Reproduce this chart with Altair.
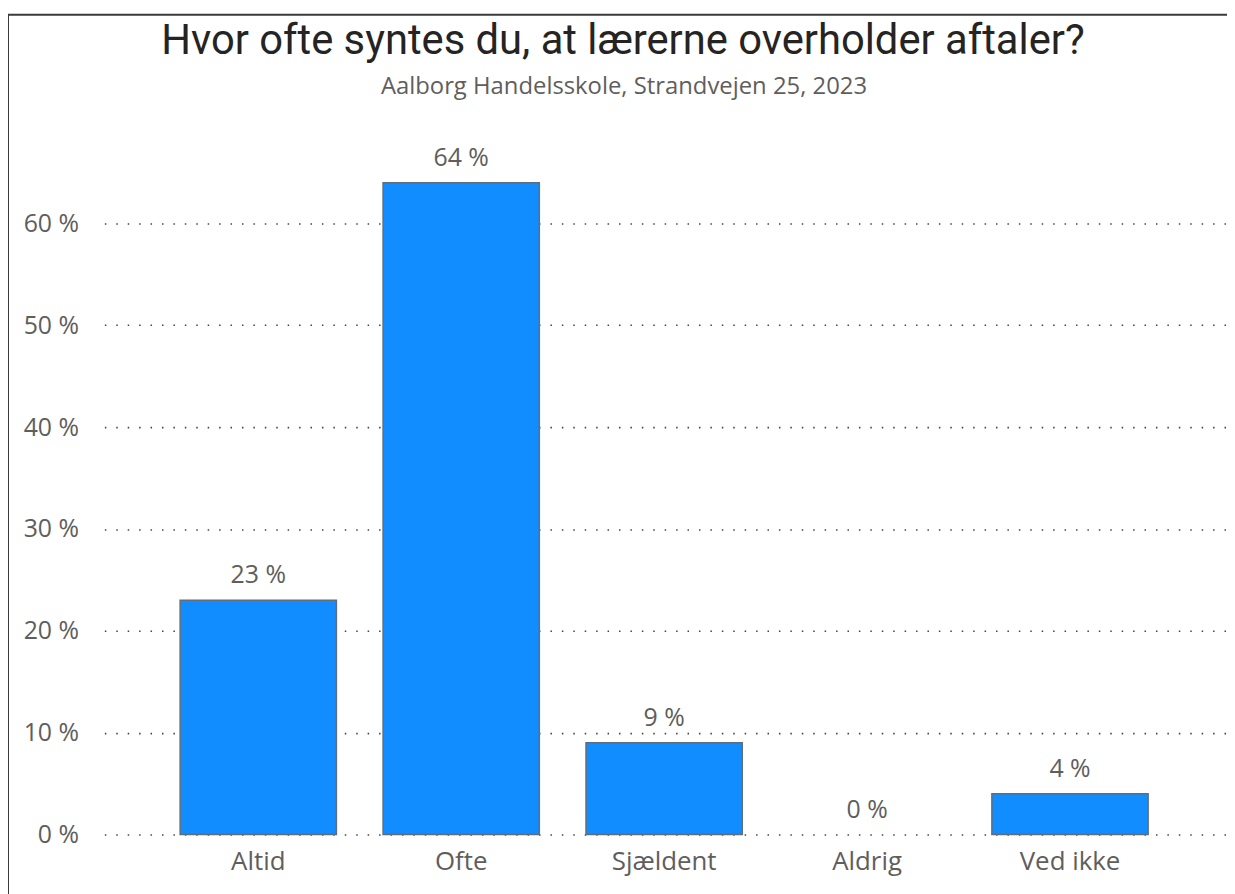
import altair as alt
import pandas as pd

categories = ["Altid", "Ofte", "Sjældent", "Aldrig", "Ved ikke"]
values = [23, 64, 9, 0, 4]
labels = ["23 %", "64 %", "9 %", "0 %", "4 %"]
y_ticks = [0, 10, 20, 30, 40, 50, 60]
title_text = "Hvor ofte syntes du, at lærerne overholder aftaler?"
subtitle_text = "Aalborg Handelsskole, Strandvejen 25, 2023"

df = pd.DataFrame({"kategori": categories, "andel": values, "label": labels})

W, H = 1130, 697
PAD_L, PAD_T, PAD_R, PAD_B = 97, 132, 0, 57
FS = 26

xenc = alt.X(
    "kategori:N",
    sort=categories,
    title=None,
    scale=alt.Scale(paddingInner=0.23, paddingOuter=0.381, align=0.49),
    axis=alt.Axis(labelAngle=0, domain=False, ticks=False, labelPadding=14,
                  labelFontSize=FS, labelColor="#605E5C", labelFont="Open Sans"),
)
yenc = alt.Y(
    "andel:Q",
    title=None,
    scale=alt.Scale(domain=[0, 68], nice=False),
    axis=alt.Axis(values=y_ticks, labelExpr="datum.value + ' %'", domain=False, ticks=False,
                  labelPadding=26, labelFontSize=FS - 1, labelColor="#605E5C", labelFont="Open Sans",
                  grid=True, gridDash=[1.5, 10], gridColor="#444444", gridWidth=1.6),
)

bars = alt.Chart(df).mark_bar(color="#118DFF", stroke="#5E6E7C", strokeWidth=1.5).encode(
    x=xenc, y=yenc,
    strokeOpacity=alt.condition(alt.datum.andel > 0, alt.value(1), alt.value(0)),
)
text = alt.Chart(df).mark_text(baseline="bottom", dy=-12, fontSize=FS - 1, color="#605E5C",
                               font="Open Sans").encode(
    x=alt.X("kategori:N", sort=categories), y="andel:Q", text="label:N"
)
frame = alt.Chart(pd.DataFrame({"f": [1]})).mark_rect(
    fill=None, stroke="#3a3a3a", strokeWidth=2, clip=False
).encode(
    x=alt.value(-97), x2=alt.value(W + 20), y=alt.value(-128), y2=alt.value(H + 80)
)
title = alt.Chart(pd.DataFrame({"t": [title_text]})).mark_text(
    fontSize=42, font="Roboto", fontWeight="normal", color="#252423", baseline="alphabetic",
    align="center", clip=False
).encode(x=alt.value(522), y=alt.value(-89), text="t:N")
subtitle = alt.Chart(pd.DataFrame({"t": [subtitle_text]})).mark_text(
    fontSize=24, font="Open Sans", color="#605E5C", baseline="alphabetic", align="center", clip=False
).encode(x=alt.value(523), y=alt.value(-48), text="t:N")

chart = alt.layer(bars, text, frame, title, subtitle).properties(
    width=W,
    height=H,
    padding={"left": PAD_L, "top": PAD_T, "right": PAD_R, "bottom": PAD_B},
    autosize=alt.AutoSizeParams(type="none"),
    background="white",
).configure_view(strokeWidth=0, stroke=None)

chart.save("out.html", embed_options={"renderer": "svg", "actions": False})
